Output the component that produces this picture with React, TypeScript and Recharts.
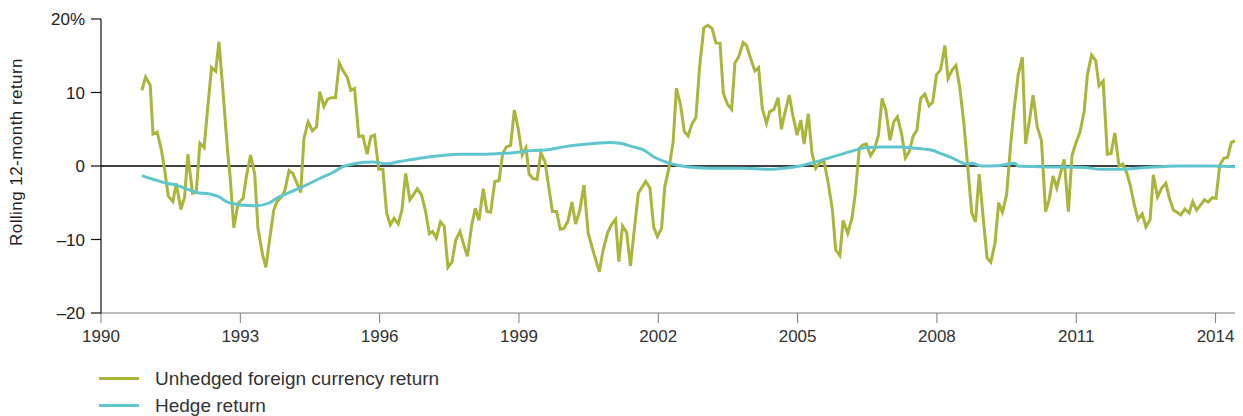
import { LineChart, Line, XAxis, YAxis, ReferenceLine } from 'recharts';

// Rolling 12-month returns (decimal years, % values)
const unhedgedYears = [
  1990.88, 1990.96, 1991.06, 1991.12, 1991.21, 1991.3, 1991.37, 1991.45, 1991.55, 1991.62,
  1991.72, 1991.8, 1991.87, 1991.97, 1992.05, 1992.13, 1992.22, 1992.28, 1992.38, 1992.47,
  1992.54, 1992.63, 1992.73, 1992.78, 1992.86, 1992.95, 1993.06, 1993.13, 1993.22, 1993.31,
  1993.38, 1993.48, 1993.55, 1993.63, 1993.72, 1993.79, 1993.89, 1993.96, 1994.05, 1994.13,
  1994.22, 1994.3, 1994.37, 1994.46, 1994.55, 1994.64, 1994.71, 1994.8, 1994.88, 1994.96,
  1995.05, 1995.13, 1995.21, 1995.3, 1995.38, 1995.46, 1995.55, 1995.64, 1995.73, 1995.81,
  1995.89, 1995.98, 1996.07, 1996.15, 1996.23, 1996.31, 1996.4, 1996.48, 1996.56, 1996.65,
  1996.73, 1996.81, 1996.9, 1996.99, 1997.07, 1997.14, 1997.22, 1997.31, 1997.39, 1997.47,
  1997.56, 1997.64, 1997.73, 1997.81, 1997.89, 1997.98, 1998.06, 1998.14, 1998.23, 1998.31,
  1998.39, 1998.48, 1998.57, 1998.65, 1998.73, 1998.82, 1998.9, 1998.98, 1999.07, 1999.15,
  1999.22, 1999.3, 1999.39, 1999.47, 1999.56, 1999.64, 1999.72, 1999.81, 1999.89, 1999.97,
  2000.06, 2000.14, 2000.22, 2000.31, 2000.4, 2000.49, 2000.57, 2000.65, 2000.73, 2000.81,
  2000.91, 2000.99, 2001.08, 2001.15, 2001.23, 2001.32, 2001.4, 2001.48, 2001.57, 2001.65,
  2001.73, 2001.82, 2001.9, 2001.98, 2002.07, 2002.14, 2002.23, 2002.32, 2002.39, 2002.48,
  2002.56, 2002.64, 2002.73, 2002.81, 2002.89, 2002.98, 2003.07, 2003.16, 2003.24, 2003.33,
  2003.4, 2003.49, 2003.58, 2003.65, 2003.73, 2003.83, 2003.9, 2003.99, 2004.08, 2004.16,
  2004.24, 2004.33, 2004.4, 2004.49, 2004.58, 2004.65, 2004.74, 2004.82, 2004.9, 2004.99,
  2005.07, 2005.14, 2005.23, 2005.31, 2005.39, 2005.48, 2005.57, 2005.66, 2005.75, 2005.82,
  2005.91, 2005.98, 2006.08, 2006.17, 2006.24, 2006.33, 2006.4, 2006.48, 2006.57, 2006.65,
  2006.74, 2006.82, 2006.9, 2006.99, 2007.07, 2007.15, 2007.24, 2007.32, 2007.4, 2007.49,
  2007.57, 2007.65, 2007.74, 2007.83, 2007.91, 2007.99, 2008.08, 2008.17, 2008.24, 2008.33,
  2008.41, 2008.49, 2008.58, 2008.66, 2008.75, 2008.83, 2008.91, 2009.0, 2009.08, 2009.16,
  2009.25, 2009.33, 2009.41, 2009.5, 2009.59, 2009.66, 2009.75, 2009.84, 2009.91, 2010.0,
  2010.07, 2010.16, 2010.25, 2010.34, 2010.42, 2010.5, 2010.58, 2010.66, 2010.74, 2010.83,
  2010.91, 2010.99, 2011.08, 2011.17, 2011.24, 2011.33, 2011.42, 2011.49, 2011.58, 2011.67,
  2011.75, 2011.83, 2011.92, 2012.0, 2012.09, 2012.17, 2012.25, 2012.33, 2012.42, 2012.5,
  2012.59, 2012.66, 2012.75, 2012.84, 2012.93, 2013.0, 2013.09, 2013.17, 2013.25, 2013.34,
  2013.43, 2013.51, 2013.59, 2013.68, 2013.76, 2013.84, 2013.93, 2014.01, 2014.09, 2014.18,
  2014.26, 2014.34, 2014.42,
];
const unhedgedValues = [
  10.3, 12.1, 11.0, 4.35, 4.6, 2.2, -0.5, -4.1, -4.85, -2.35,
  -5.9, -4.2, 1.6, -3.7, -3.6, 3.1, 2.5, 6.7, 13.4, 12.9,
  16.9, 9.9, 1.7, -1.45, -8.4, -5.1, -4.4, -1.45, 1.5, -1.1,
  -8.5, -12.1, -13.8, -10.05, -6.0, -4.85, -4.2, -3.3, -0.6, -1.0,
  -2.35, -3.6, 3.75, 6.0, 4.8, 5.3, 10.1, 8.1, 9.1, 9.3,
  9.3, 14.0, 13.0, 12.1, 10.3, 10.55, 4.0, 4.1, 1.6, 4.0,
  4.2, -0.45, -0.45, -6.4, -8.0, -7.1, -7.9, -6.0, -1.0, -4.6,
  -3.9, -3.1, -3.9, -6.2, -9.2, -8.9, -9.8, -7.6, -8.2, -13.8,
  -13.0, -10.05, -8.9, -10.7, -12.3, -8.15, -5.75, -7.4, -3.1, -6.2,
  -6.3, -2.1, -2.0, 1.7, 2.6, 2.8, 7.6, 5.2, 1.5, 2.5,
  -1.1, -1.7, -1.8, 1.8, 0.6, -2.8, -6.2, -6.2, -8.6, -8.5,
  -7.4, -4.9, -7.9, -6.0, -2.6, -9.15, -10.95, -12.7, -14.4, -11.5,
  -9.05, -8.0, -7.25, -13.0, -8.15, -9.05, -13.6, -8.9, -3.7, -2.9,
  -2.1, -3.0, -8.3, -9.6, -8.5, -2.8, -0.3, 3.3, 10.55, 8.3,
  4.7, 4.1, 5.8, 6.6, 13.5, 18.8, 19.15, 18.7, 16.75, 16.7,
  9.9, 8.4, 7.7, 14.0, 14.85, 16.8, 16.4, 14.6, 12.95, 13.4,
  7.8, 5.8, 7.4, 7.7, 9.3, 5.0, 7.6, 9.65, 6.8, 4.2,
  6.25, 3.0, 7.1, 1.8, -0.3, 0.45, 0.6, -2.35, -6.0, -11.4,
  -12.2, -7.4, -9.15, -7.1, -3.9, 2.4, 2.85, 3.0, 1.4, 2.2,
  4.2, 9.2, 7.6, 3.5, 6.0, 6.7, 4.35, 1.1, 1.9, 4.1,
  4.9, 9.2, 9.8, 8.2, 8.7, 12.4, 13.1, 16.4, 11.9, 13.1,
  13.7, 10.8, 5.8, 0.15, -6.4, -7.6, -1.1, -7.3, -12.5, -13.1,
  -10.5, -5.0, -6.3, -3.9, 3.1, 7.6, 12.4, 14.8, 3.0, 6.5,
  9.65, 5.3, 3.5, -6.2, -4.5, -1.35, -3.0, -1.0, 0.9, -6.2,
  1.5, 3.1, 4.6, 7.4, 12.4, 15.1, 14.3, 10.9, 11.55, 1.6,
  1.7, 4.5, 0.0, 0.27, -1.0, -2.8, -5.3, -7.25, -6.5, -8.3,
  -7.3, -1.2, -4.2, -3.0, -2.35, -4.25, -6.0, -6.3, -6.65, -5.85,
  -6.4, -4.85, -6.0, -5.3, -4.6, -4.9, -4.3, -4.4, 0.15, 1.05,
  1.2, 3.2, 3.4,
];

const hedgeYears = [
  1990.88, 1991.12, 1991.41, 1991.62, 1991.84, 1992.05, 1992.34, 1992.56, 1992.7, 1992.84,
  1992.99, 1993.35, 1993.63, 1993.78, 1994.06, 1994.35, 1994.71, 1995.0, 1995.21, 1995.5,
  1995.86, 1996.15, 1996.43, 1996.86, 1997.29, 1997.73, 1998.16, 1998.59, 1998.88, 1999.13,
  1999.31, 1999.66, 1999.95, 2000.31, 2000.67, 2000.96, 2001.17, 2001.46, 2001.68, 2001.89,
  2002.14, 2002.25, 2002.61, 2003.11, 2003.83, 2004.4, 2004.76, 2005.05, 2005.41, 2005.77,
  2006.13, 2006.48, 2006.84, 2007.2, 2007.56, 2007.92, 2008.06, 2008.17, 2008.35, 2008.64,
  2008.75, 2008.96, 2009.32, 2009.68, 2009.75, 2010.21, 2011.18, 2011.51, 2011.94, 2012.51,
  2013.23, 2013.95, 2014.42,
];
const hedgeValues = [
  -1.3, -1.8, -2.35, -2.6, -3.1, -3.6, -3.8, -4.25, -4.85, -5.1,
  -5.3, -5.4, -5.0, -4.4, -3.6, -2.8, -1.7, -0.85, -0.1, 0.36,
  0.55, 0.3, 0.6, 1.05, 1.4, 1.6, 1.6, 1.7, 1.8, 2.0,
  2.1, 2.25, 2.6, 2.9, 3.1, 3.2, 3.1, 2.6, 2.2, 1.3,
  0.6, 0.36, -0.1, -0.3, -0.3, -0.45, -0.27, 0.0, 0.6, 1.27,
  1.95, 2.5, 2.6, 2.6, 2.4, 2.1, 1.75, 1.5, 1.05, 0.27,
  0.36, 0.0, 0.05, 0.36, 0.0, -0.1, -0.2, -0.45, -0.45, -0.2,
  0.0, 0.0, -0.1,
];

const xTicks = [1990, 1993, 1996, 1999, 2002, 2005, 2008, 2011, 2014];
const yTicks = [-20, -10, 0, 10, 20];

const seriesNames = ['Unhedged foreign currency return', 'Hedge return'];
const seriesColors = ['#a9b53b', '#5fc6cd'];

const unhedgedData = unhedgedYears.map((year, i) => ({ year, value: unhedgedValues[i] }));
const hedgeData = hedgeYears.map((year, i) => ({ year, value: hedgeValues[i] }));

const FONT = '"Liberation Sans", Arial, sans-serif';

const formatY = (v: number) => {
  if (v === 20) return '20%';
  if (v < 0) return '\u2013' + Math.abs(v);
  return String(v);
};

// rotated axis title, centred a little above the zero line as in the reference
const YLabel = ({ viewBox }: any) => {
  const cx = 14;
  const cy = viewBox.y + 133;
  return (
    <text
      x={cx}
      y={cy}
      transform={`rotate(-90, ${cx}, ${cy})`}
      textAnchor="middle"
      fontSize={17}
      letterSpacing={0.45}
      fontFamily={FONT}
      fill="#222"
    >
      Rolling 12-month return
    </text>
  );
};

export default function App() {
  return (
    <div style={{ position: 'relative', width: 1235, height: 408, fontFamily: FONT }}>
      <LineChart width={1235} height={360} margin={{ top: 11, right: 7, left: 0, bottom: 0 }}>
        <XAxis
          dataKey="year"
          type="number"
          domain={[1990, 2014.44]}
          ticks={xTicks}
          allowDataOverflow
          height={55}
          stroke="#7a7a7a"
          tickSize={10}
          tickMargin={7}
          tick={{ fill: '#333', fontSize: 17, fontFamily: FONT }}
        />
        <YAxis
          type="number"
          domain={[-20, 20]}
          ticks={yTicks}
          width={93}
          stroke="#111"
          strokeWidth={1.2}
          tickSize={10}
          tickMargin={6}
          tickFormatter={formatY}
          tick={{ fill: '#222', fontSize: 17, fontFamily: FONT }}
          label={<YLabel />}
        />
        <ReferenceLine y={0} stroke="#000" strokeWidth={1.3} />
        <Line
          data={unhedgedData}
          dataKey="value"
          type="linear"
          stroke={seriesColors[0]}
          strokeWidth={3}
          dot={false}
          isAnimationActive={false}
          name={seriesNames[0]}
        />
        <Line
          data={hedgeData}
          dataKey="value"
          type="monotone"
          stroke={seriesColors[1]}
          strokeWidth={3}
          dot={false}
          isAnimationActive={false}
          name={seriesNames[1]}
        />
      </LineChart>
      <div style={{ position: 'absolute', left: 91, top: 357 }}>
        {seriesNames.map((name, i) => (
          <div key={name} style={{ display: 'flex', alignItems: 'center', height: 27 }}>
            <div style={{ width: 40, height: 3, background: seriesColors[i], marginRight: 16 }} />
            <span style={{ fontSize: 19, color: '#333' }}>{name}</span>
          </div>
        ))}
      </div>
    </div>
  );
}
